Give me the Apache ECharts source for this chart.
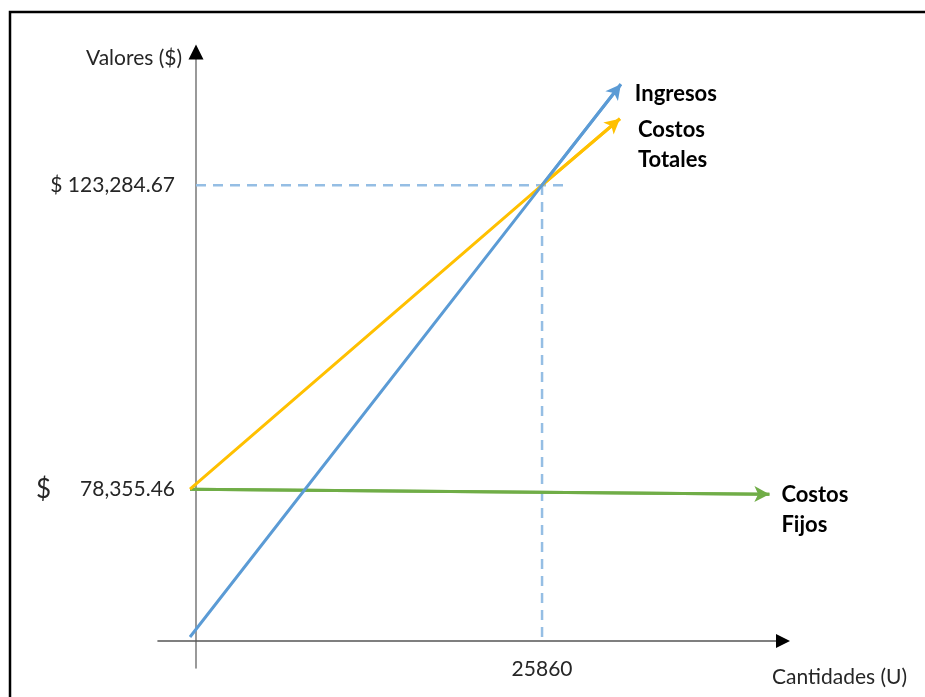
<!DOCTYPE html>
<html>
<head>
<meta charset="utf-8">
<script src="https://cdn.jsdelivr.net/npm/echarts@6/dist/echarts.min.js"></script>
<style>
html,body{margin:0;padding:0;background:#fff;}
#c{width:925px;height:697px;}
</style>
</head>
<body>
<div id="c"></div>
<script>
// ---- data ----
const xTickValues = [25860];
const xTickLabels = ['25860'];
const yTickValues = [78355.46, 123284.67];
const yTickLabels = ['78,355.46', '$ 123,284.67'];

const ingresosX = [0, 25860, 31650];
const ingresosY = [0, 123284.67, 138200];
const totalesX = [0, 25860, 31580];
const totalesY = [78355.46, 123284.67, 133100];
const fijosX = [0, 42560];
const fijosY = [78355.46, 77600];

const guideHX = [440, 27400];
const guideHY = [123284.67, 123284.67];
const guideVX = [25860, 25860];
const guideVY = [0, 123284.67];

const seriesNames = ['Ingresos', 'Costos\nTotales', 'Costos\nFijos'];
const axisTitles = ['Valores ($)', 'Cantidades (U)'];

function pairs(xs, ys) { return xs.map((x, i) => [x, ys[i]]); }

const FONT = 'Lato';
const TRI = 'path://M0,0 L10,20 L-10,20 Z';
const chart = echarts.init(document.getElementById('c'));

function mainLine(name, xs, ys, color, offset) {
  const pts = pairs(xs, ys);
  const n = pts.length;
  return {
    type: 'line', name: name, xAxisIndex: 0, yAxisIndex: 0,
    data: pts, symbol: 'none', z: 5, silent: true,
    lineStyle: { color: color, width: 3 },
    endLabel: {
      show: true, formatter: name, offset: offset,
      color: '#000', fontFamily: FONT, fontWeight: 'bold', fontSize: 22,
      lineHeight: 30, align: 'left', verticalAlign: 'middle'
    },
    markLine: {
      silent: true, symbol: ['none', 'arrow'], symbolSize: [12, 15],
      label: { show: false },
      lineStyle: { color: color, width: 3, type: 'solid' },
      data: [[{ coord: pts[n - 2] }, { coord: pts[n - 1] }]]
    }
  };
}

function guide(xs, ys) {
  return {
    type: 'line', xAxisIndex: 0, yAxisIndex: 0, data: pairs(xs, ys),
    symbol: 'none', z: 2, silent: true,
    lineStyle: { color: '#95BEE4', width: 2.5, type: [10, 7] }
  };
}

function hiddenAxis(gi) { return { gridIndex: gi, type: 'value', show: false }; }
function lineAxis(gi, pos, color, width, withArrow, size) {
  const axisLine = { show: true, onZero: false, lineStyle: { color: color, width: width } };
  if (withArrow) {
    axisLine.symbol = ['none', TRI];
    axisLine.symbolSize = size;
  } else {
    axisLine.symbol = ['none', 'none'];
  }
  return {
    gridIndex: gi, type: 'value', min: 0, max: 1, position: pos,
    axisLine: axisLine,
    axisTick: { show: false }, axisLabel: { show: false }, splitLine: { show: false }
  };
}

const xGrid = { left: 158, top: 640, width: 625, height: 1 };
const yGrid = { left: 196, top: 52, width: 1, height: 616 };

const option = {
  animation: false,
  backgroundColor: '#ffffff',
  grid: [
    { left: 190, top: 45, width: 599, height: 592 },
    xGrid, yGrid,
    Object.assign({}, xGrid), Object.assign({}, yGrid)
  ],
  xAxis: [
    {
      gridIndex: 0, type: 'value', min: 0, max: 44000,
      axisLine: { show: false }, splitLine: { show: false },
      axisTick: { show: false },
      axisLabel: {
        customValues: xTickValues,
        formatter: v => xTickLabels[xTickValues.indexOf(v)],
        margin: 22, color: '#262626', fontFamily: FONT, fontSize: 21
      }
    },
    lineAxis(1, 'bottom', '#555555', 1.6, false),
    hiddenAxis(2),
    lineAxis(3, 'bottom', '#000000', 0, true, [14, 15]),
    hiddenAxis(4)
  ],
  yAxis: [
    {
      gridIndex: 0, type: 'value', min: 0, max: 144000,
      breaks: [{ start: 8000, end: 64500, gap: 0 }],
      breakArea: { show: false },
      axisLine: { show: false }, splitLine: { show: false },
      axisTick: { show: false },
      axisLabel: {
        customValues: yTickValues,
        formatter: v => {
          const t = yTickLabels[yTickValues.indexOf(v)];
          if (v === yTickValues[0]) return '{d|$}{n|' + t + '}';
          return '{n|' + t + '}';
        },
        margin: 15,
        rich: {
          d: { fontFamily: FONT, fontSize: 26, color: '#262626', padding: [0, 29, 0, 0] },
          n: { fontFamily: FONT, fontSize: 21, color: '#262626' }
        }
      }
    },
    hiddenAxis(1),
    lineAxis(2, 'left', '#808080', 1.6, false),
    hiddenAxis(3),
    lineAxis(4, 'left', '#000000', 0, true, [15, 15])
  ],
  graphic: [
    { type: 'rect', shape: { x: 10, y: 12, width: 1000, height: 1000 },
      style: { fill: 'none', stroke: '#000', lineWidth: 2.5 }, z: 100, silent: true },
    { type: 'text', left: 86, top: 48, style: { text: axisTitles[0], fontFamily: FONT, fontSize: 21, fill: '#262626' } },
    { type: 'text', left: 772, top: 667, style: { text: axisTitles[1], fontFamily: FONT, fontSize: 21, fill: '#262626' } }
  ],
  series: [
    guide(guideHX, guideHY),
    guide(guideVX, guideVY),
    mainLine(seriesNames[2], fijosX, fijosY, '#70AD47', [4, 16]),
    mainLine(seriesNames[1], totalesX, totalesY, '#FFC000', [10, 26]),
    mainLine(seriesNames[0], ingresosX, ingresosY, '#5B9BD5', [6, 10])
  ]
};
chart.setOption(option);
</script>
</body>
</html>
